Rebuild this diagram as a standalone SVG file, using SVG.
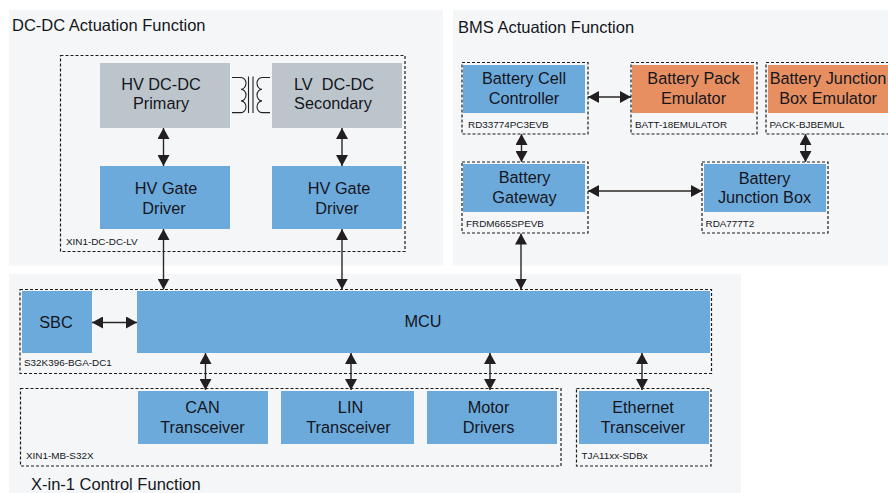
<svg xmlns="http://www.w3.org/2000/svg" width="888" height="493" viewBox="0 0 888 493">
<style>
text{font-family:"Liberation Sans",Arial,sans-serif;fill:#14161c;white-space:pre}
.panel{fill:#f5f6f8}
.dash{fill:none;stroke:#1c1c1c;stroke-width:1.2;stroke-dasharray:3 2}
.blue{fill:#6daadc}
.gray{fill:#bdc5cc}
.orange{fill:#e88f62}
.t{font-size:16.300px;text-anchor:middle}
.h{font-size:16.500px}
.s{font-size:9.900px}
.c{fill:none;stroke:#2b2727;stroke-width:1.400;marker-start:url(#a);marker-end:url(#a)}
.w{fill:none;stroke:#222;stroke-width:1.100}
</style>
<defs>
<marker id="a" viewBox="0 0 12 12" refX="11" refY="6" markerWidth="12" markerHeight="12" markerUnits="userSpaceOnUse" orient="auto-start-reverse"><path d="M0 0L11 6L0 12Z" fill="#231f20"/></marker>
</defs>
<rect width="888" height="493" fill="#fff"/>
<rect class="panel" x="9" y="10" width="434" height="255.500"/>
<rect class="panel" x="453" y="10" width="435" height="255.500"/>
<rect class="panel" x="9" y="274" width="732" height="219"/>
<text class="h" x="12" y="31">DC-DC Actuation Function</text>
<text class="h" x="458" y="33">BMS Actuation Function</text>
<text class="h" x="31" y="490">X-in-1 Control Function</text>
<g id="dcdc-board"><rect class="dash" x="60.500" y="55.500" width="344.500" height="196"/><text class="s" x="66" y="245">XIN1-DC-DC-LV</text></g>
<g id="hv-primary"><rect class="gray" x="100" y="63" width="130" height="65"/><text class="t" x="161" y="90">HV DC-DC</text><text class="t" x="161" y="109">Primary</text></g>
<g id="lv-secondary"><rect class="gray" x="272" y="63" width="130" height="65"/><text class="t" x="334" y="90">LV  DC-DC</text><text class="t" x="333" y="109">Secondary</text></g>
<g id="transformer">
<path class="w" d="M232 77.500H241a5 5.850 0 0 1 0 11.700a5 5.850 0 0 1 0 11.700a5 5.850 0 0 1 0 11.700H232"/>
<path class="w" d="M270 77.500H262a5 5.850 0 0 0 0 11.700a5 5.850 0 0 0 0 11.700a5 5.850 0 0 0 0 11.700H270"/>
<path class="w" d="M248.500 76.500V113M253 76.500V113"/>
</g>
<g id="hv-gate-1"><rect class="blue" x="100" y="166" width="130" height="63"/><text class="t" x="166" y="194">HV Gate</text><text class="t" x="164" y="214">Driver</text></g>
<g id="hv-gate-2"><rect class="blue" x="272" y="166" width="130" height="63"/><text class="t" x="339" y="194">HV Gate</text><text class="t" x="337" y="214">Driver</text></g>
<g id="cell-controller"><rect class="dash" x="462" y="62.500" width="126" height="71.500"/><rect class="blue" x="463" y="65" width="122" height="48"/><text class="t" x="524" y="84">Battery Cell</text><text class="t" x="524" y="104">Controller</text><text class="s" x="468" y="128">RD33774PC3EVB</text></g>
<g id="pack-emulator"><rect class="dash" x="631" y="62.500" width="126" height="71.500"/><rect class="orange" x="632" y="65" width="122" height="48"/><text class="t" x="693.500" y="84">Battery Pack</text><text class="t" x="693.500" y="104">Emulator</text><text class="s" x="635" y="128">BATT-18EMULATOR</text></g>
<g id="junction-emulator"><rect class="dash" x="766" y="62.500" width="126" height="71.500"/><rect class="orange" x="768" y="65" width="120" height="48"/><text class="t" x="828" y="84">Battery Junction</text><text class="t" x="828" y="104">Box Emulator</text><text class="s" x="769.500" y="128">PACK-BJBEMUL</text></g>
<g id="gateway"><rect class="dash" x="462" y="162" width="126" height="71"/><rect class="blue" x="463" y="164" width="122" height="48"/><text class="t" x="524.500" y="183">Battery</text><text class="t" x="524.500" y="203">Gateway</text><text class="s" x="466" y="227">FRDM665SPEVB</text></g>
<g id="junction-box"><rect class="dash" x="702" y="162" width="126" height="71"/><rect class="blue" x="704" y="164" width="122" height="48"/><text class="t" x="764.500" y="184">Battery</text><text class="t" x="764.500" y="203">Junction Box</text><text class="s" x="705.500" y="227">RDA777T2</text></g>
<g id="mcu-board"><rect class="dash" x="20" y="289.500" width="691.500" height="84"/><text class="s" x="24" y="366">S32K396-BGA-DC1</text></g>
<g id="sbc"><rect class="blue" x="22" y="291" width="70" height="62"/><text class="t" x="56" y="328">SBC</text></g>
<g id="mcu"><rect class="blue" x="137" y="291" width="573" height="62"/><text class="t" x="423" y="327">MCU</text></g>
<g id="mb-board"><rect class="dash" x="20.500" y="388.500" width="540.500" height="77.500"/><text class="s" x="26" y="459">XIN1-MB-S32X</text></g>
<g id="can"><rect class="blue" x="138" y="391" width="130" height="53"/><text class="t" x="202.500" y="413">CAN</text><text class="t" x="202.500" y="433">Transceiver</text></g>
<g id="lin"><rect class="blue" x="281" y="391" width="133" height="53"/><text class="t" x="350.500" y="413">LIN</text><text class="t" x="348.500" y="433">Transceiver</text></g>
<g id="motor"><rect class="blue" x="427" y="391" width="130" height="53"/><text class="t" x="488.500" y="413">Motor</text><text class="t" x="488.500" y="433">Drivers</text></g>
<g id="ethernet"><rect class="dash" x="576.500" y="388.500" width="134.500" height="77.500"/><rect class="blue" x="579" y="391" width="130" height="53"/><text class="t" x="643" y="413">Ethernet</text><text class="t" x="643" y="433">Transceiver</text><text class="s" x="581.500" y="459">TJA11xx-SDBx</text></g>
<g id="connectors">
<path class="c" d="M163.500 128V166"/>
<path class="c" d="M342 128V166"/>
<path class="c" d="M163.500 229V289.500"/>
<path class="c" d="M342 229V289.500"/>
<path class="c" d="M521 233.500V289.500"/>
<path class="c" d="M92 322.500H137"/>
<path class="c" d="M205.500 353V390"/>
<path class="c" d="M351 353V390"/>
<path class="c" d="M490 353V390"/>
<path class="c" d="M642 353V390"/>
<path class="c" d="M588 97H631"/>
<path class="c" d="M588 191H702"/>
<path class="c" d="M521.500 134V162"/>
<path class="c" d="M805.500 134V162"/>
</g>
</svg>
